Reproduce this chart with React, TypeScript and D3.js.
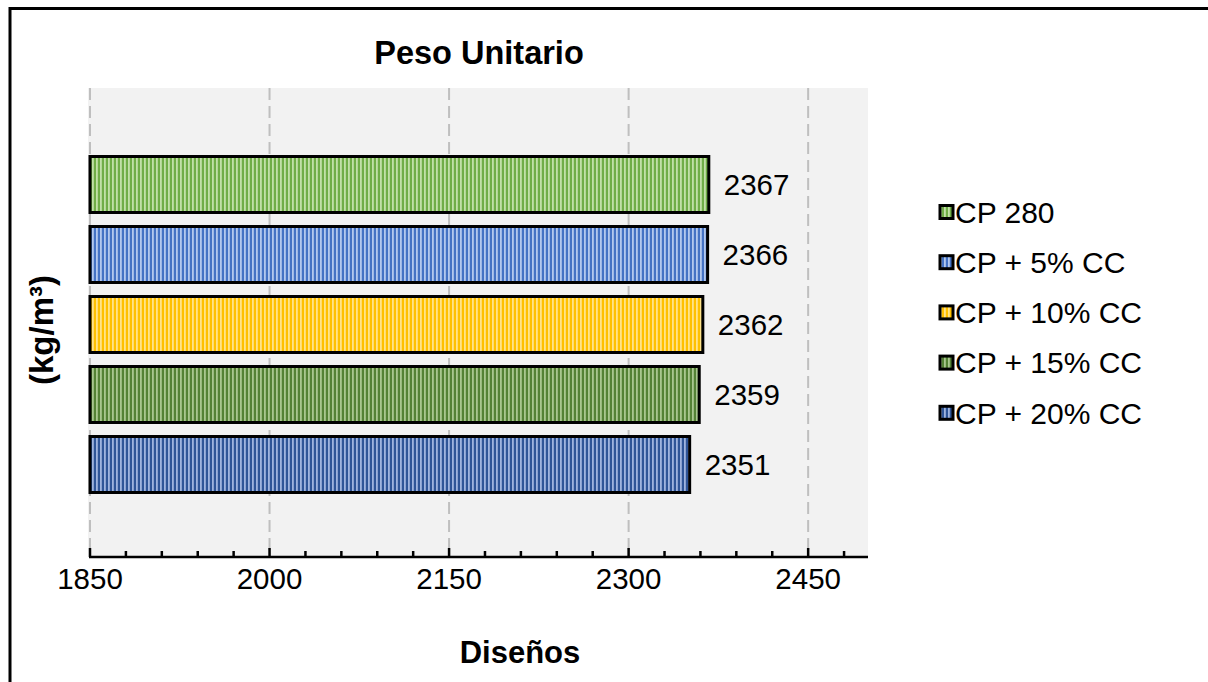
import React from "react";
import * as d3 from "d3";

const categories = ["CP 280", "CP + 5% CC", "CP + 10% CC", "CP + 15% CC", "CP + 20% CC"];
const values = [2367, 2366, 2362, 2359, 2351];
const baseColors = ["#70ad47", "#4472c4", "#ffc000", "#548235", "#2f5597"];
const lightColors = ["#c2e0a8", "#b3c8ee", "#ffe38a", "#a9c78f", "#9fb4de"];
const xTicks = [1850, 2000, 2150, 2300, 2450];
const xDomain = [1850, 2500];

const FONT = "Arial, 'Liberation Sans', Helvetica, sans-serif";

export default function App() {
  const W = 1208;
  const H = 682;
  const plot = { left: 88, right: 868, top: 88, bottom: 557 };
  const x = d3.scaleLinear().domain(xDomain).range([90, 868]);
  const y = d3
    .scaleBand<string>()
    .domain(categories)
    .range([90, 559])
    .paddingInner(0.2)
    .paddingOuter(0.95);
  const minorTicks = d3.range(1850, 2500, 30);

  return (
    <svg
      width={W}
      height={H}
      style={{ position: "absolute", left: 0, top: 0, background: "#fff" }}
      fontFamily={FONT}
    >
      <defs>
        {categories.map((c, i) => (
          <pattern
            key={c}
            id={`stripe${i}`}
            patternUnits="userSpaceOnUse"
            width={4}
            height={4}
          >
            <rect width={4} height={4} fill={baseColors[i]} />
            <rect x={0} width={1.8} height={4} fill={lightColors[i]} />
          </pattern>
        ))}
      </defs>
      <rect width={W} height={H} fill="#fff" />
      <path d={`M10,${H + 5} V8.5 H${W + 5}`} fill="none" stroke="#000" strokeWidth={3} />

      <text x={479} y={64} textAnchor="middle" fontSize={32.5} fontWeight="bold">
        Peso Unitario
      </text>

      <rect
        x={plot.left}
        y={plot.top}
        width={plot.right - plot.left}
        height={plot.bottom - plot.top}
        fill="#f2f2f2"
      />
      {xTicks.map((t) => (
        <line
          key={t}
          x1={x(t)}
          x2={x(t)}
          y1={plot.top}
          y2={plot.bottom}
          stroke="#bfbfbf"
          strokeWidth={2}
          strokeDasharray="12,6"
        />
      ))}

      {categories.map((c, i) => (
        <g key={c}>
          <rect
            x={x(xDomain[0])}
            y={y(c)!}
            width={x(values[i]) - x(xDomain[0])}
            height={y.bandwidth()}
            fill={`url(#stripe${i})`}
            stroke="#000"
            strokeWidth={3}
          />
          <text
            x={x(values[i]) + 15}
            y={y(c)! + y.bandwidth() / 2}
            dy="0.36em"
            fontSize={29.5}
          >
            {values[i]}
          </text>
        </g>
      ))}

      <line x1={x(xDomain[0]) - 1} x2={plot.right} y1={plot.bottom} y2={plot.bottom} stroke="#000" strokeWidth={2.5} />
      {minorTicks.map((t) => {
        const major = (t - 1850) % 150 === 0;
        return (
          <line
            key={t}
            x1={x(t)}
            x2={x(t)}
            y1={plot.bottom}
            y2={plot.bottom - (major ? 9 : 6)}
            stroke="#000"
            strokeWidth={2.5}
          />
        );
      })}
      {xTicks.map((t) => (
        <text key={t} x={x(t)} y={589} textAnchor="middle" fontSize={29.5}>
          {t}
        </text>
      ))}

      <text x={520} y={663} textAnchor="middle" fontSize={31} fontWeight="bold">
        Diseños
      </text>
      <text
        transform="translate(53,330) rotate(-90)"
        textAnchor="middle"
        fontSize={33}
        fontWeight="bold"
      >
        (kg/m³)
      </text>

      {categories.map((c, i) => {
        const cy = 212 + i * 50.2;
        return (
          <g key={c}>
            <rect
              x={940}
              y={cy - 6.5}
              width={13}
              height={13}
              fill={`url(#stripe${i})`}
              stroke="#000"
              strokeWidth={3}
            />
            <text x={955} y={cy} dy="0.36em" fontSize={30}>
              {c}
            </text>
          </g>
        );
      })}
    </svg>
  );
}
